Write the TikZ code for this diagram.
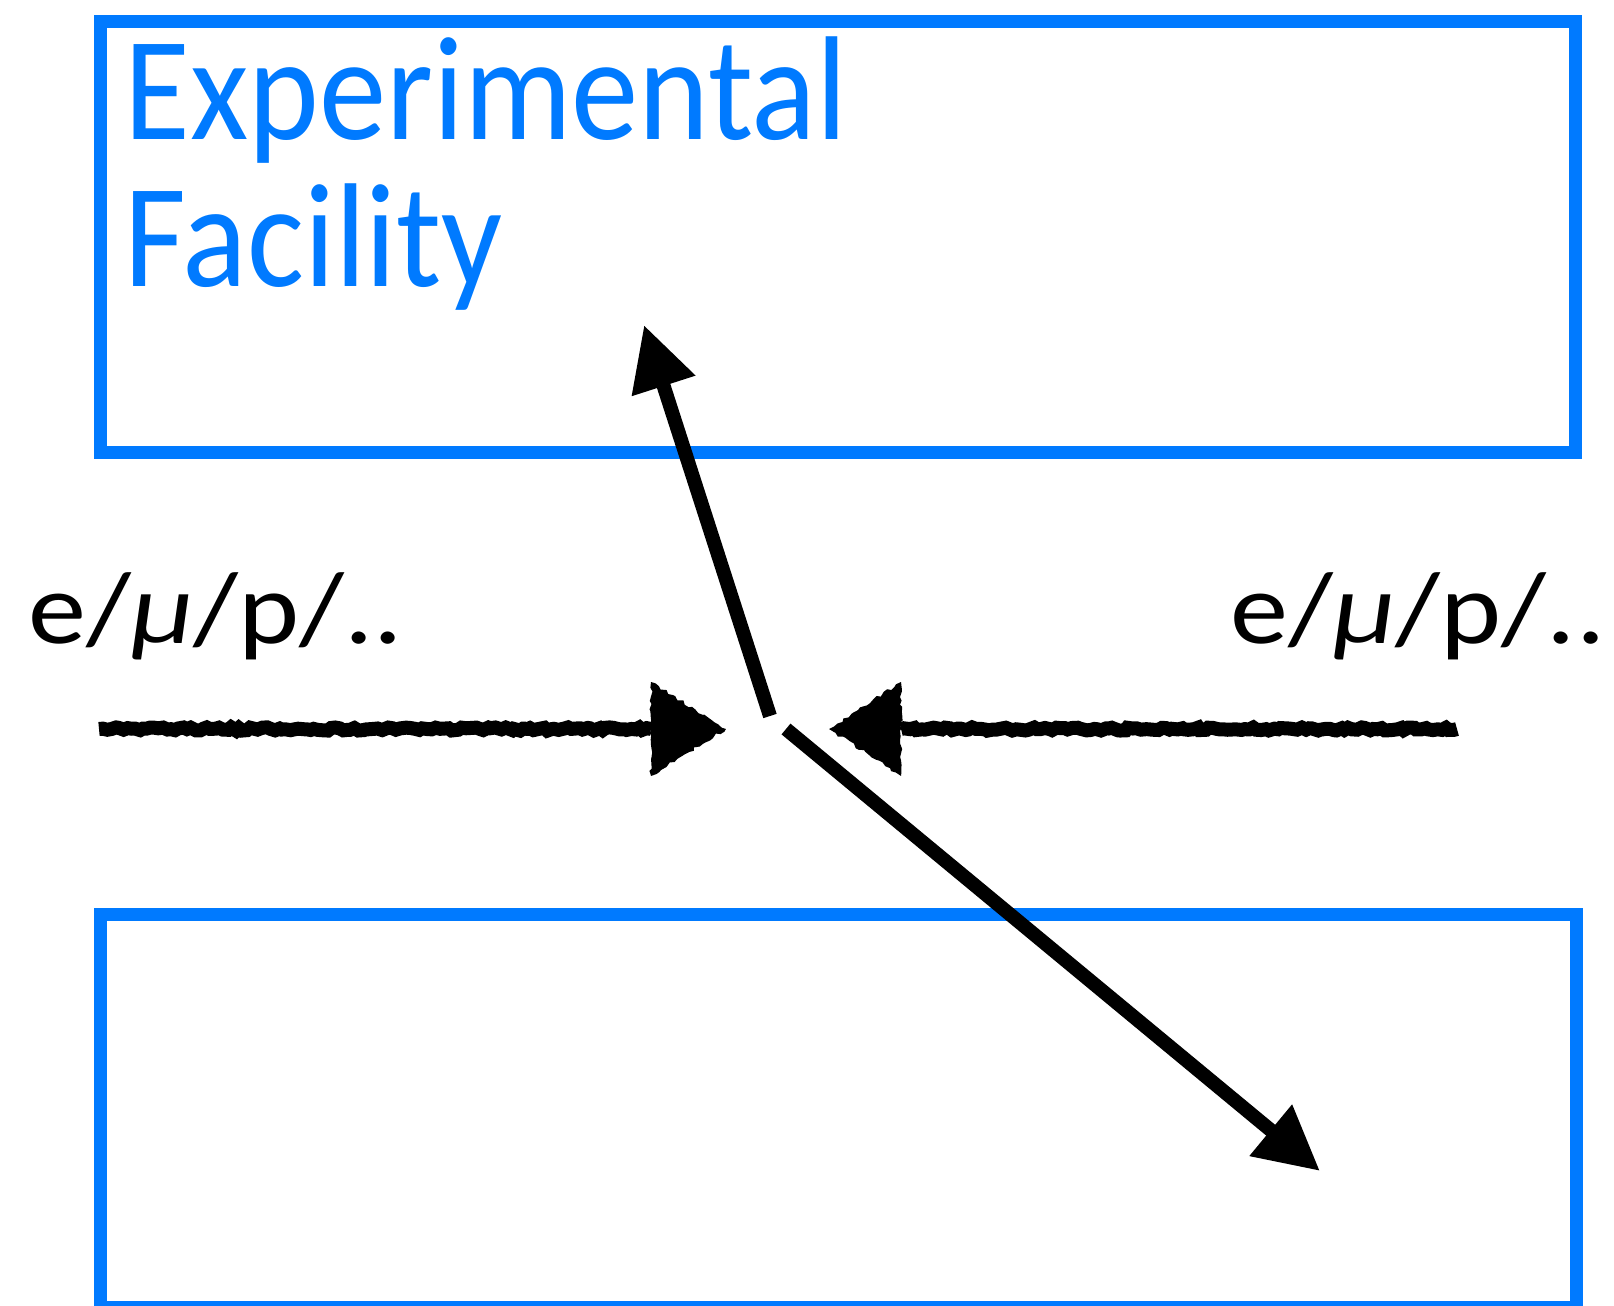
\documentclass[tikz,border=0pt]{standalone}
\usepackage{fontspec}
\setmainfont{Carlito}
\newfontfamily\titlefont[FakeStretch=0.91]{Carlito}
\newfontfamily\labelfont[FakeStretch=1.14]{Carlito}
\usetikzlibrary{arrows.meta,decorations.pathmorphing,calc}
\definecolor{kblue}{RGB}{0,122,255}
\begin{document}
\begin{tikzpicture}[x=0.5pt,y=-0.5pt,
  facility/.style={draw=kblue, line width=6.5pt, inner sep=0pt, outer sep=0pt},
  title/.style={text=kblue, font=\titlefont\fontsize{74}{78}\selectfont, inner sep=0pt, anchor=base west},
  particle/.style={font=\labelfont\fontsize{51}{55}\selectfont, inner sep=0pt},
  chalk/.style={decorate, decoration={random steps, segment length=2pt, amplitude=0.8pt}},
  shaft/.style={chalk, line width=7pt},
  track/.style={line width=7pt, -{Triangle[length=32pt,width=31.5pt]}}]
\pgfmathsetseed{7}
\clip (0,0) rectangle (1614,1306);
% facilities
\node[facility, minimum width=737.5pt, minimum height=215.5pt] (upper) at (837.5,236.5) {};
\node[facility, minimum width=738pt, minimum height=196.5pt] (lower) at (838,1110.5) {};
% title
\node[title] (exp) at (124,139) {Experimental};
\node[title] (fac) at (124,286) {Facility};
% beam labels
\node[particle, anchor=base west] (lab1) at (28,643) {e/{\itshape μ}/p/..};
\node[particle, anchor=base east] (lab2) at (1606,643) {e/{\itshape μ}/p/..};
% beam coordinates
\coordinate (ls) at (99,729);
\coordinate (lb) at (651,729);
\coordinate (lt) at (726,729);
\coordinate (rs) at (1457,729);
\coordinate (rb) at (901,729);
\coordinate (rt) at (829,729);
% tracks
\coordinate (us) at (770,716);
\coordinate (ut) at (644,325);
\coordinate (ds) at (786,729);
\coordinate (dt) at (1320,1171);
% incoming beams (sketchy)
\draw[shaft] (ls) -- (lb);
\fill[chalk] ($(lb)+(0,-47)$) -- (lt) -- ($(lb)+(0,47)$) -- cycle;
\draw[shaft] (rs) -- (rb);
\fill[chalk] ($(rb)+(0,-47)$) -- (rt) -- ($(rb)+(0,47)$) -- cycle;
% outgoing tracks
\draw[track] (us) -- (ut);
\draw[track] (ds) -- (dt);
\end{tikzpicture}
\end{document}
